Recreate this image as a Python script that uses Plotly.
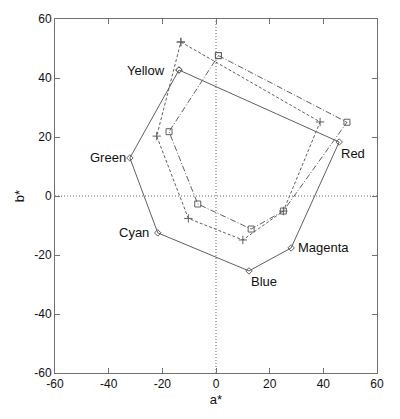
import plotly.graph_objects as go

colors = ["Yellow", "Red", "Magenta", "Blue", "Cyan", "Green"]
solid_a = [-13.8, 45.9, 28.0, 12.3, -21.7, -32.1]
solid_b = [42.7, 18.3, -17.6, -25.4, -12.5, 12.9]
dash_a = [-13.1, 38.8, 25.1, 10.0, -10.3, -22.1]
dash_b = [52.2, 25.1, -5.1, -14.9, -7.6, 20.3]
dd_a = [0.9, 48.8, 25.1, 13.1, -6.8, -17.5]
dd_b = [47.6, 25.0, -5.1, -11.2, -2.7, 21.8]
ticks = [-60, -40, -20, 0, 20, 40, 60]

def closed(v):
    return list(v) + [v[0]]

line_col = "#606060"
fig = go.Figure()
fig.add_trace(go.Scatter(x=closed(solid_a), y=closed(solid_b), mode="lines+markers",
                         line=dict(color=line_col, width=1),
                         marker=dict(symbol="diamond-open", size=5, color=line_col, line=dict(width=1))))
fig.add_trace(go.Scatter(x=closed(dash_a), y=closed(dash_b), mode="lines+markers",
                         line=dict(color=line_col, width=1, dash="3px,2px"),
                         marker=dict(symbol="cross-thin-open", size=6, color=line_col, line=dict(width=1, color=line_col))))
fig.add_trace(go.Scatter(x=closed(dd_a), y=closed(dd_b), mode="lines+markers",
                         line=dict(color=line_col, width=1, dash="6px,2px,1px,2px"),
                         marker=dict(symbol="square-open", size=6, color=line_col, line=dict(width=1))))

# zero reference lines
fig.add_shape(type="line", xref="paper", yref="y", x0=0, x1=1, y0=0, y1=0,
              line=dict(color="#606060", width=1, dash="1px,2px"), layer="below")
fig.add_shape(type="line", xref="x", yref="paper", x0=0, x1=0, y0=0, y1=1,
              line=dict(color="#606060", width=1, dash="1px,2px"), layer="below")

offsets = {"Yellow": (-12, 0, "right", "middle"),
           "Red": (0, -11, "left", "middle"),
           "Magenta": (5, 0, "left", "middle"),
           "Blue": (0, -11, "left", "middle"),
           "Cyan": (-7, 0, "right", "middle"),
           "Green": (-2, 0, "right", "middle")}
for name, a, b in zip(colors, solid_a, solid_b):
    dx, dy, xa, ya = offsets[name]
    fig.add_annotation(x=a, y=b, text=name, showarrow=False, xshift=dx, yshift=dy,
                       xanchor=xa, yanchor=ya, font=dict(size=13, color="#111"))

axis_common = dict(range=[-60, 60], tickvals=ticks, ticktext=[str(t) for t in ticks],
                   showgrid=False, zeroline=False, showline=True, mirror="ticks",
                   linecolor="#707070", linewidth=1, ticks="inside", ticklen=5,
                   tickcolor="#707070", tickfont=dict(size=12, color="#111"),
                   automargin=False)
fig.update_xaxes(**axis_common, title=dict(text="a*", font=dict(size=13, color="#111"), standoff=4))
fig.update_yaxes(**axis_common, title=dict(text="b*", font=dict(size=13, color="#111"), standoff=6))

fig.update_layout(width=400, height=419, showlegend=False,
                  margin=dict(l=47, r=31, t=11, b=54, pad=0, autoexpand=False),
                  plot_bgcolor="white", paper_bgcolor="white",
                  font=dict(family="Liberation Sans, Arial, sans-serif", color="#111"))
fig.write_html("out.html")
